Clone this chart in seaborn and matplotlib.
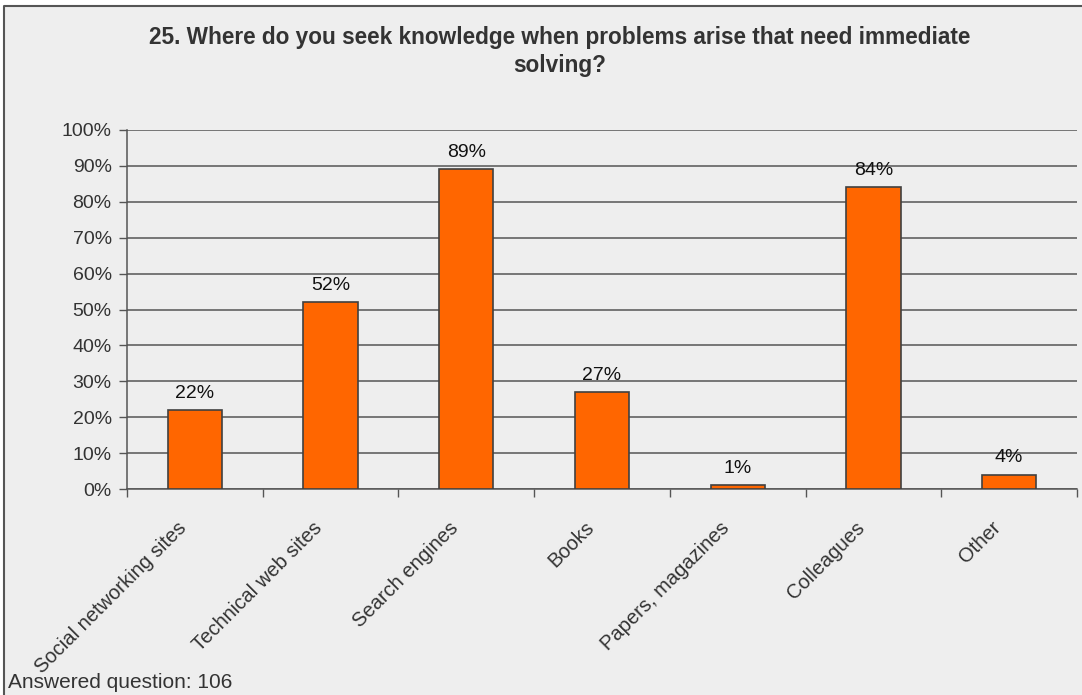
import matplotlib
matplotlib.use("Agg")
import matplotlib.pyplot as plt
import matplotlib.patches as mpatches
import matplotlib.lines as mlines
import matplotlib.transforms as mtransforms
import seaborn as sns
import pandas as pd

categories = ["Social networking sites", "Technical web sites", "Search engines",
              "Books", "Papers, magazines", "Colleagues", "Other"]
values = [22, 52, 89, 27, 1, 84, 4]
y_ticks = [0, 10, 20, 30, 40, 50, 60, 70, 80, 90, 100]
title = "25. Where do you seek knowledge when problems arise that need immediate\nsolving?"
footer = "Answered question: 106"

df = pd.DataFrame({"category": categories, "value": values})

sns.set_theme(style="white")
plt.rcParams["font.family"] = ["Liberation Sans", "DejaVu Sans"]

W, H = 1082, 695
fig = plt.figure(figsize=(W / 100, H / 100), dpi=100, facecolor="white")

# panel background, framed on top and left only
left_x, top_y = 4 / W, 1 - 6 / H
fig.patches.append(mpatches.Rectangle((left_x, 0), 1.2, top_y, transform=fig.transFigure,
                                      facecolor="#EEEEEE", edgecolor="none", zorder=-10))
fig.lines.append(mlines.Line2D([left_x, left_x, 1.2], [0, top_y, top_y], transform=fig.transFigure,
                               color="#555555", linewidth=1.5, zorder=-9))

ax = fig.add_axes([127 / W, 1 - 489 / H, 950 / W, 359 / H])
ax.set_facecolor("#EEEEEE")

sns.barplot(data=df, x="category", y="value", color="#FF6600", width=0.4,
            edgecolor="#404040", linewidth=1.2, saturation=1, ax=ax, zorder=3)

ax.set_ylim(0, 100)
ax.set_xlim(-0.5, len(categories) - 0.5)
ax.set_yticks(y_ticks)
ax.set_yticklabels([f"{t}%" for t in y_ticks], fontsize=14, color="#333333")
ax.yaxis.grid(True, color="#555555", linewidth=1.1, zorder=0)
ax.set_axisbelow(True)

for s in ["top", "right"]:
    ax.spines[s].set_visible(False)
for s in ["left", "bottom"]:
    ax.spines[s].set_color("#555555")
    ax.spines[s].set_linewidth(1.1)

ax.tick_params(axis="y", which="both", left=True, length=6, width=1, color="#555555", pad=5)
# x ticks at category boundaries, labels at category centres
ax.set_xticks([i - 0.5 for i in range(len(categories) + 1)])
ax.set_xticklabels([])
ax.tick_params(axis="x", which="major", bottom=True, length=6, width=1, color="#555555")
ax.set_xticks(range(len(categories)), minor=True)
ax.set_xticklabels(categories, minor=True, rotation=45, ha="right", va="top",
                   rotation_mode="anchor", fontsize=14.5, color="#333333")
ax.tick_params(axis="x", which="minor", bottom=False, length=0, pad=21)
shift = mtransforms.ScaledTranslation(-18 / 100, 0, fig.dpi_scale_trans)
for lbl in ax.get_xticklabels(minor=True):
    lbl.set_transform(lbl.get_transform() + shift)
ax.set_xlabel("")
ax.set_ylabel("")

for i, v in enumerate(values):
    ax.annotate(f"{v}%", (i, v), xytext=(0, 6), textcoords="offset points",
                ha="center", va="bottom", fontsize=14, color="#111111", zorder=5)

fig.text(560 / W, 1 - 51.5 / H, title, ha="center", va="center", fontsize=16.3,
         fontweight="bold", color="#333333", linespacing=1.33)
fig.text(8 / W, 1 - 683 / H, footer, ha="left", va="center", fontsize=15, color="#333333")

fig.savefig("out.png", dpi=100, facecolor="white")
